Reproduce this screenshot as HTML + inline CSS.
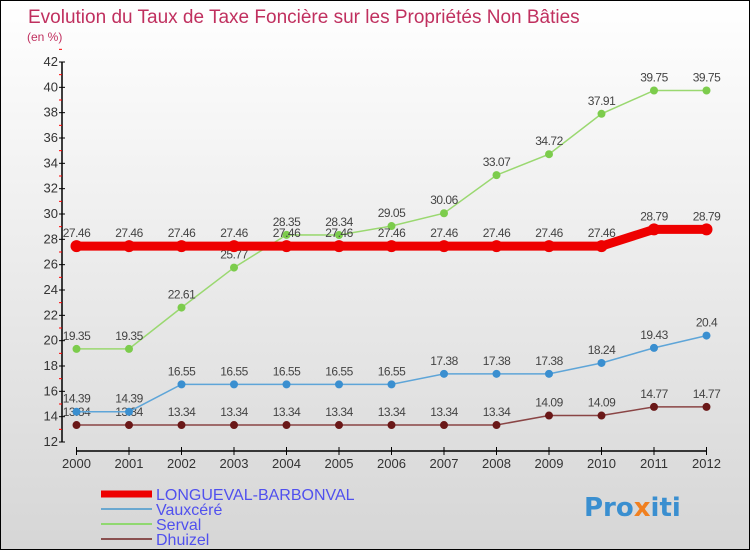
<!DOCTYPE html>
<html><head><meta charset="utf-8"><style>
body{margin:0}
#c{width:750px;height:550px;position:relative;box-sizing:border-box;border:1px solid #000;background:linear-gradient(#fff,#d6d6d6);font-family:"Liberation Sans",sans-serif;overflow:hidden}
</style></head><body>
<div id="c">
<svg id="s" width="750" height="550">
<text x="27" y="22" font-size="19" fill="#c0305f" font-family="Liberation Sans, sans-serif">Evolution du Taux de Taxe Foncière sur les Propriétés Non Bâties</text>
<text x="26" y="40" font-size="12" fill="#c0305f" font-family="Liberation Sans, sans-serif">(en %)</text>
<text x="583" y="515" font-size="26" font-weight="bold" fill="#3a8fd0" font-family="DejaVu Sans, sans-serif">Pro<tspan fill="#f08020">x</tspan>iti</text>
</svg>
</div>
<script>
const years=["2000","2001","2002","2003","2004","2005","2006","2007","2008","2009","2010","2011","2012"];
const yTicks=[12,14,16,18,20,22,24,26,28,30,32,34,36,38,40,42];
const longueval=[27.46,27.46,27.46,27.46,27.46,27.46,27.46,27.46,27.46,27.46,27.46,28.79,28.79];
const vauxcere=[14.39,14.39,16.55,16.55,16.55,16.55,16.55,17.38,17.38,17.38,18.24,19.43,20.4];
const serval=[19.35,19.35,22.61,25.77,28.35,28.34,29.05,30.06,33.07,34.72,37.91,39.75,39.75];
const dhuizel=[13.34,13.34,13.34,13.34,13.34,13.34,13.34,13.34,13.34,14.09,14.09,14.77,14.77];
const NS="http://www.w3.org/2000/svg",s=document.getElementById('s');
const X=i=>75.5+i*52.5, Y=v=>441-(v-12)*380/30;
function el(t,a,p){const e=document.createElementNS(NS,t);for(const k in a)e.setAttribute(k,a[k]);(p||s).appendChild(e);return e;}
let e=el('line',{x1:61,y1:61,x2:61,y2:441,stroke:'#000','stroke-width':1.5});

e=el('line',{x1:75.5,y1:450,x2:705,y2:450,stroke:'#000','stroke-width':1.5});

yTicks.forEach(v=>{el('line',{x1:58,x2:64,y1:Y(v),y2:Y(v),stroke:'#000'});
el('line',{x1:58,x2:61,y1:Y(v+1),y2:Y(v+1),stroke:'red'});
e=el('text',{x:57,y:Y(v)+4,'font-size':13,'text-anchor':'end',fill:'#333'});e.textContent=v;
});
years.forEach((y,i)=>{el('line',{x1:X(i),x2:X(i),y1:446,y2:454,stroke:'#000'});
e=el('text',{x:X(i),y:467,'font-size':13,'text-anchor':'middle',fill:'#333'});e.textContent=y;
});
function series(d,col,mk,w,r,name){
const g=el('g',{});
el('polyline',{points:d.map((v,i)=>X(i)+','+Y(v)).join(' '),fill:'none',stroke:col,'stroke-width':w},g);
d.forEach((v,i)=>{const c=el('circle',{cx:X(i),cy:Y(v),r:r,fill:mk},g);

const t=el('text',{x:X(i),y:Y(v)-9,'font-size':12,'text-anchor':'middle',fill:'#444','letter-spacing':'-0.5'},g);t.textContent=String(v);
});}
series(dhuizel,'#8a4545','#6a1818',1.5,4,'dhuizel');
series(vauxcere,'#5ea5d8','#3a8fd0',1.5,4,'vauxcere');
series(serval,'#9ad870','#7ccc4c',1.5,4,'serval');
series(longueval,'#ee0000','#ee0000',9,6,'longueval');
const leg=[["LONGUEVAL-BARBONVAL",'#ee0000',7],["Vauxcéré",'#6aa8d0',2],["Serval",'#90d870',2],["Dhuizel",'#8a5050',2]];
leg.forEach((l,i)=>{const y=493+i*15;
e=el('line',{x1:100,x2:151,y1:y,y2:y,stroke:l[1],'stroke-width':l[2]});

e=el('text',{x:155,y:y+6,'font-size':16,fill:'#5050ee'});e.textContent=l[0];
});
</script>
</body></html>
